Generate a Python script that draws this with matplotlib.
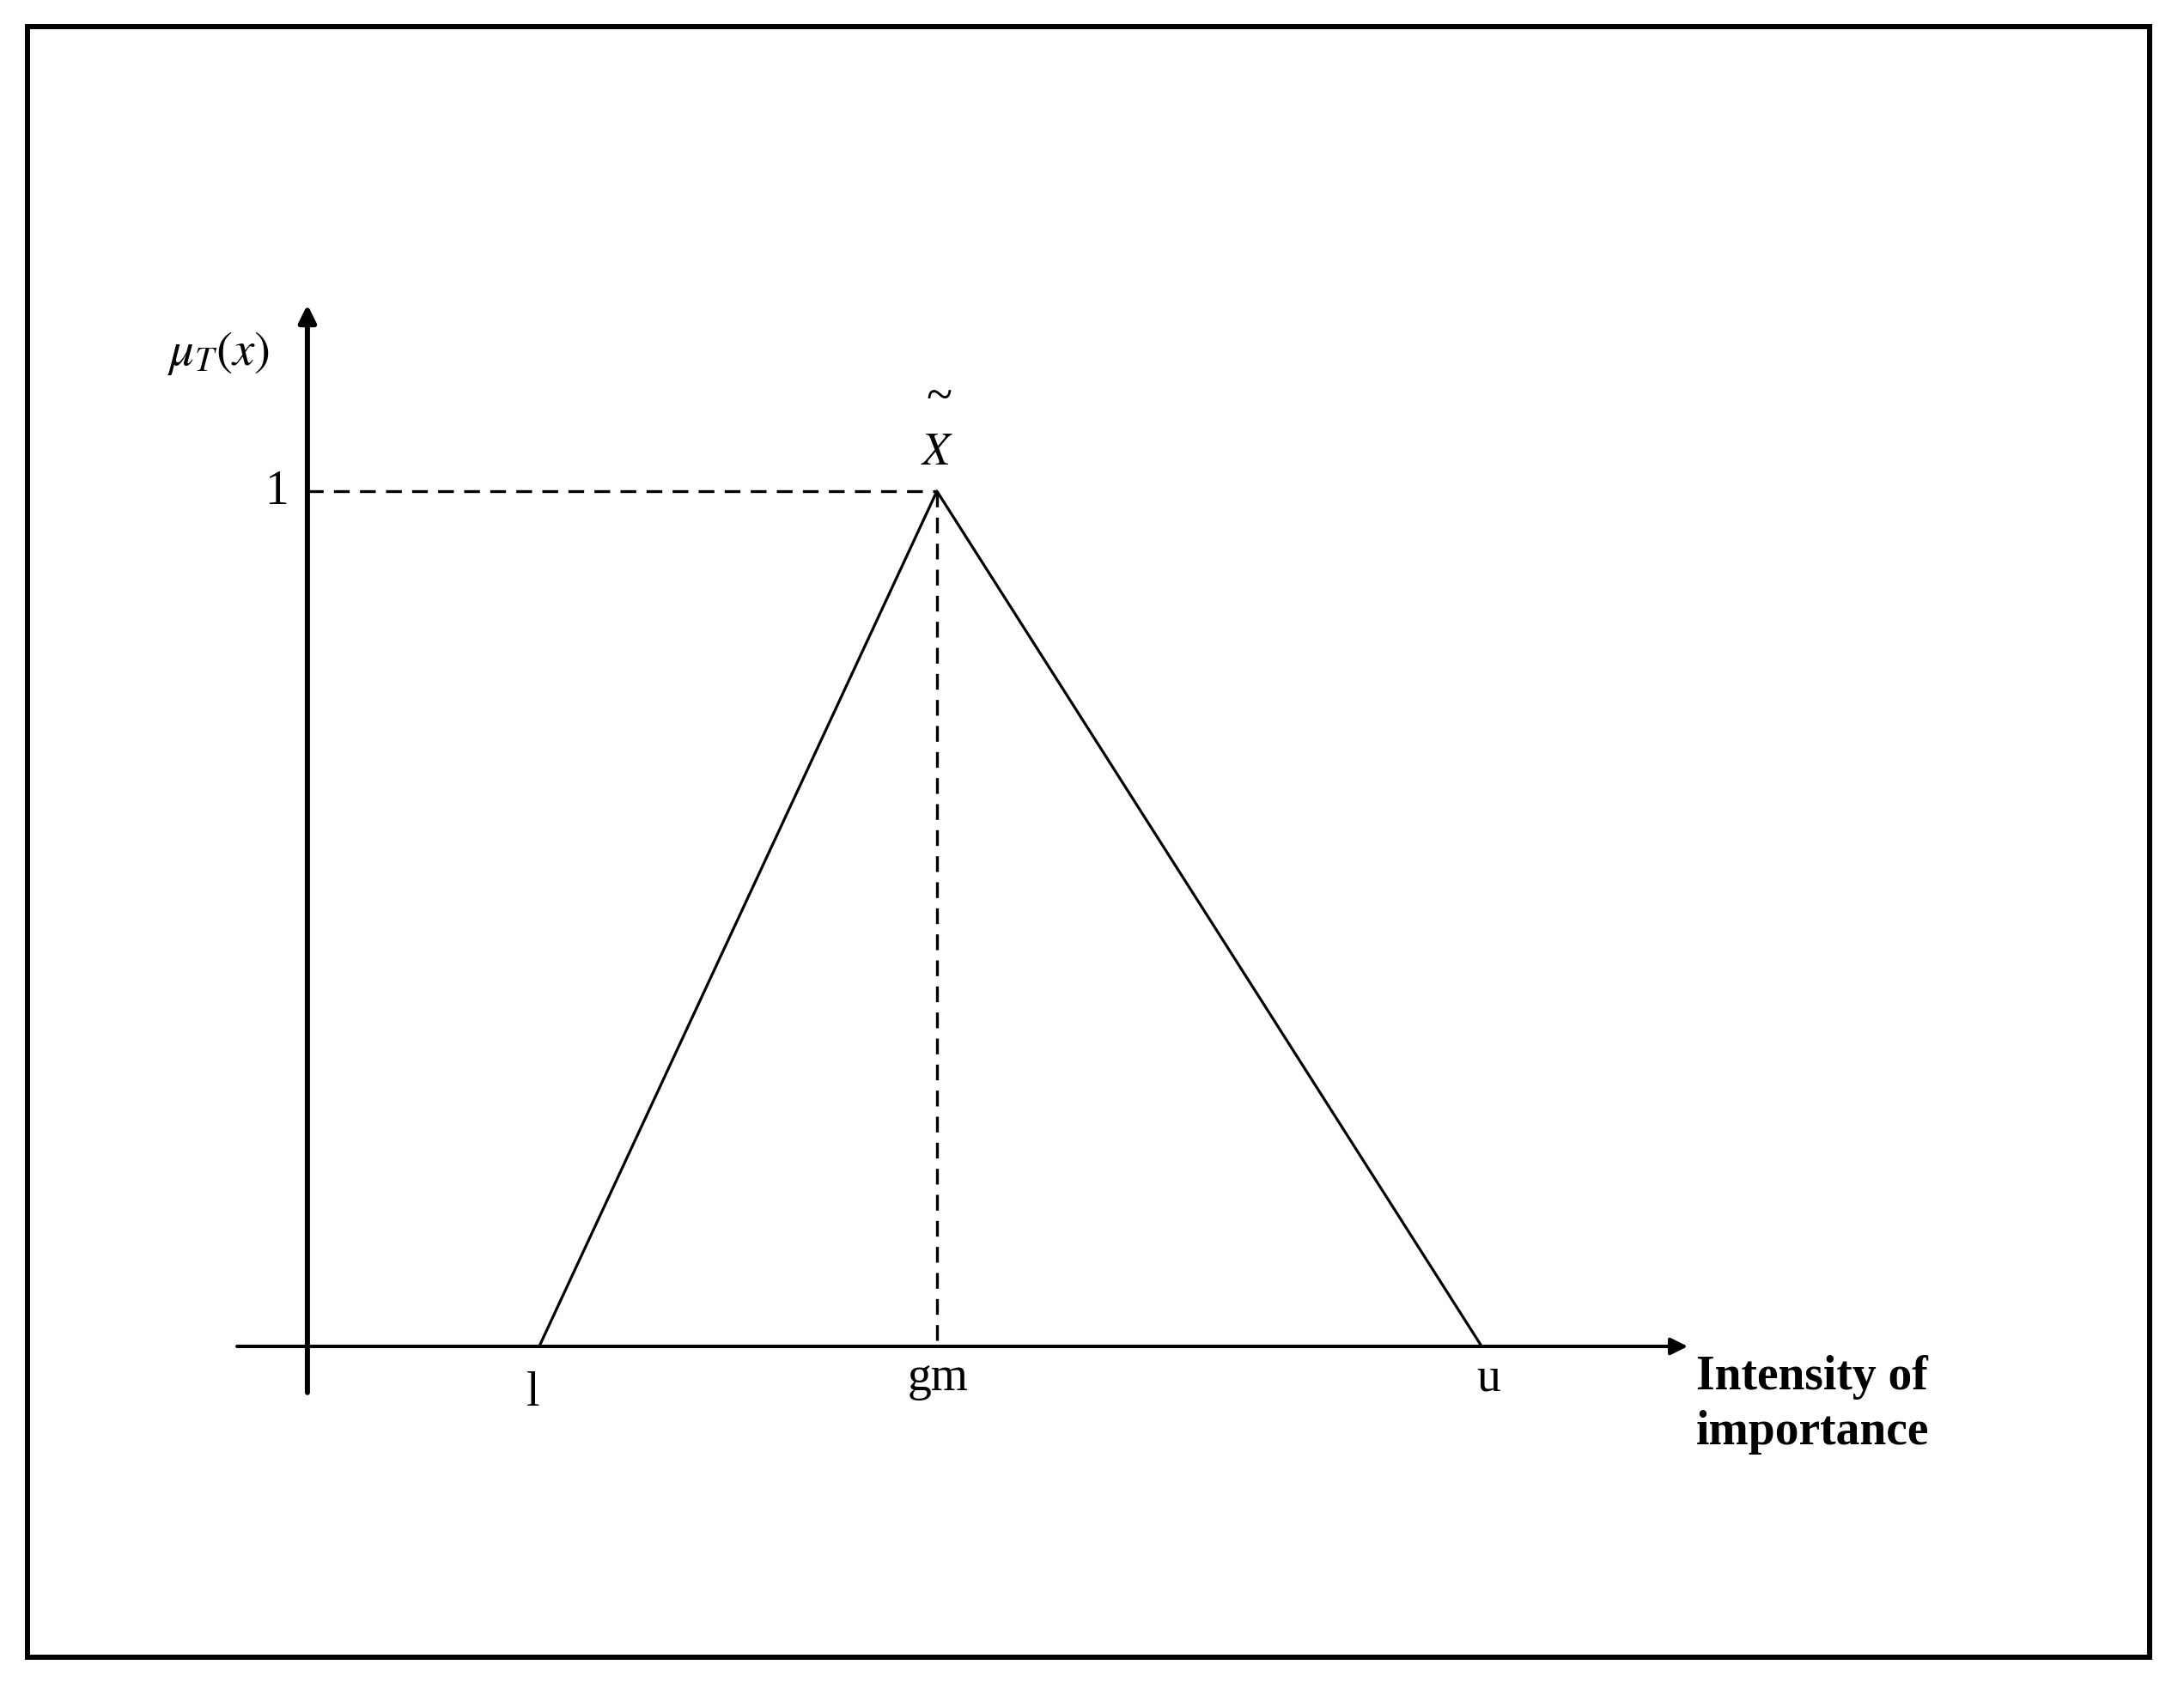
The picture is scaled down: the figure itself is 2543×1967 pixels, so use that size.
import matplotlib
matplotlib.use("Agg")
from matplotlib import pyplot as plt
from matplotlib.patches import Rectangle

plt.rcParams["font.family"] = ["Liberation Serif", "DejaVu Serif"]
plt.rcParams["mathtext.fontset"] = "stix"

# triangular fuzzy number (l, gm, u)
tick_labels = ["l", "gm", "u"]
x_points = [1.0, 2.0, 3.37]
membership = [0, 1, 0]

W, H, DPI = 2543, 1967, 100
fig = plt.figure(figsize=(W / DPI, H / DPI), dpi=DPI)
ax = fig.add_axes([0, 0, 1, 1])
ax.set_xlim(-0.356, 5.136)
ax.set_ylim(-0.4006, 1.5743)
ax.axis("off")

# frame round the picture
fig.add_artist(Rectangle((32 / W, 1 - 1930 / H), (2503 - 32) / W, (1930 - 31) / H,
                         transform=fig.transFigure, fill=False, lw=4.3, color="black"))

# axes with arrows
y_axis_x = 0.417
x_start, x_end = 0.24, 3.888
y_bottom, y_top = -0.054, 1.218
arrow = dict(arrowstyle="-|>,head_length=0.6,head_width=0.3", color="black",
             shrinkA=0, shrinkB=0, mutation_scale=20)
ax.annotate("", xy=(x_end, 0), xytext=(x_start, 0), arrowprops=dict(arrow, lw=2.9))
ax.annotate("", xy=(y_axis_x, y_top), xytext=(y_axis_x, y_bottom), arrowprops=dict(arrow, lw=4.3))

# membership function
ax.plot(x_points, membership, color="black", lw=2.3, solid_capstyle="butt")

peak_x = x_points[1]
peak_y = membership[1]
ax.plot([y_axis_x, peak_x], [peak_y, peak_y], color="black", lw=2.4, linestyle=(0, (5.5, 3.6)))
ax.plot([peak_x, peak_x], [peak_y, 0], color="black", lw=2.4, linestyle=(0, (5.5, 3.6)))

# labels
ax.annotate("1", xy=(y_axis_x, peak_y), xytext=(-26, -11), textcoords="offset points",
            ha="center", va="baseline", fontsize=40)
offsets = [(-5, -50), (1, -37), (6, -37)]
for lab, xv, off in zip(tick_labels, x_points, offsets):
    ax.annotate(lab, xy=(xv, 0), xytext=off, textcoords="offset points",
                ha="center", va="baseline", fontsize=40)

ax.annotate(r"$\mu_T(x)$", xy=(y_axis_x, peak_y), xytext=(-117, 106), textcoords="offset points",
            ha="left", va="baseline", fontsize=41)
ax.annotate(r"$X$", xy=(peak_x, peak_y), xytext=(0, 22), textcoords="offset points",
            ha="center", va="baseline", fontsize=38)
ax.annotate("~", xy=(peak_x, peak_y), xytext=(2, 78), textcoords="offset points",
            ha="center", va="center", fontsize=40)

ax.annotate("Intensity of", xy=(x_end, 0), xytext=(7, -36), textcoords="offset points",
            ha="left", va="baseline", fontsize=40, fontweight="bold")
ax.annotate("importance", xy=(x_end, 0), xytext=(7, -82), textcoords="offset points",
            ha="left", va="baseline", fontsize=40, fontweight="bold")

fig.savefig("out.png", dpi=DPI)
